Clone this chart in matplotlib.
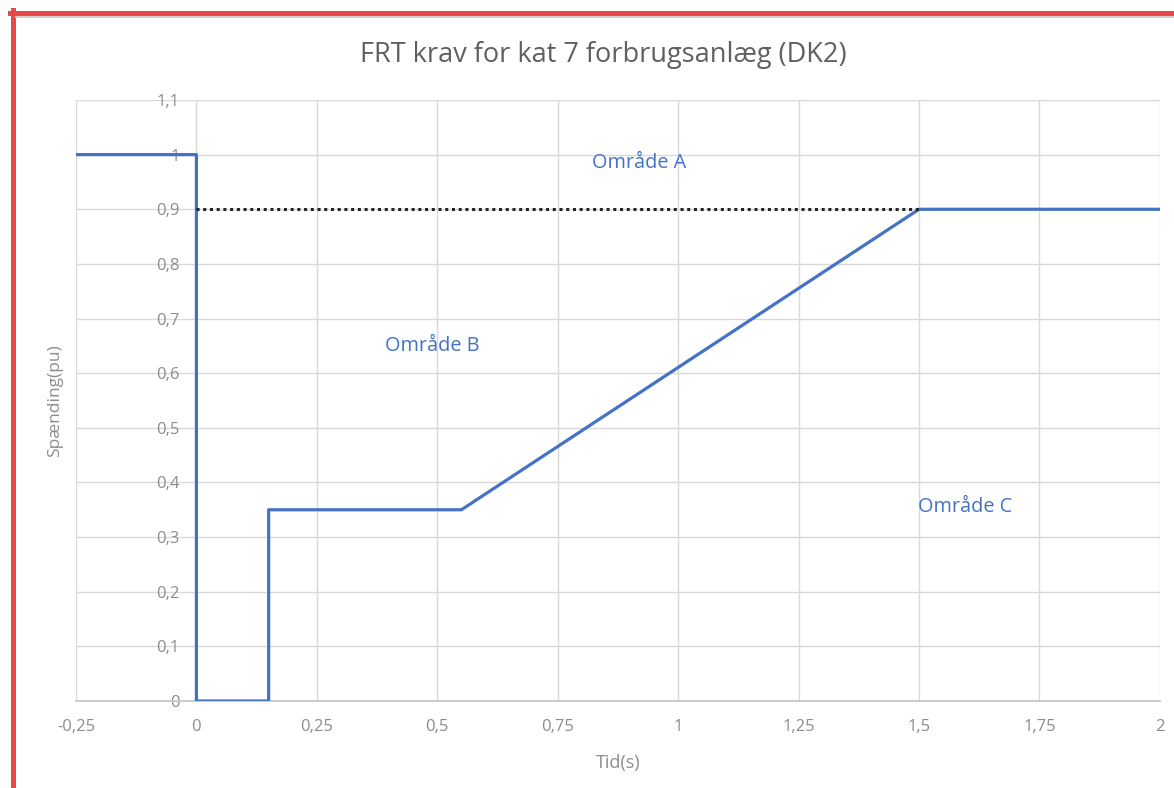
import numpy as np
import matplotlib
matplotlib.use('Agg')
import matplotlib.pyplot as plt
from matplotlib.ticker import FuncFormatter
from matplotlib.lines import Line2D

plt.rcParams['font.family'] = ['Open Sans', 'DejaVu Sans']

# FRT curve (tid [s], spænding [pu])
t_curve = [-0.25, 0, 0, 0.15, 0.15, 0.55, 1.5, 2.0]
u_curve = [1.0, 1.0, 0.0, 0.0, 0.35, 0.35, 0.9, 0.9]

# dotted 0.9 pu reference
t_ref = [0, 1.5]
u_ref = [0.9, 0.9]

# area labels
area_names = ['Område A', 'Område B', 'Område C']
area_t = [0.92, 0.49, 1.595]
area_u = [0.985, 0.65, 0.355]

x_ticks = np.arange(-0.25, 2.01, 0.25)
y_ticks = np.arange(0, 1.101, 0.1)

blue = '#4472C4'
grey = '#8c8c8c'

fig = plt.figure(figsize=(11.74, 7.88), dpi=100)
ax = fig.add_axes([0.0647, 0.1104, 0.9233, 0.7627])

ax.plot(t_curve, u_curve, color=blue, lw=2.3, zorder=3)
ax.plot(t_ref, u_ref, color='#222222', lw=2.2, ls=(0, (1, 1.2)), zorder=4)

for name, t, u in zip(area_names, area_t, area_u):
    ax.text(t, u, name, color=blue, fontsize=14.3, ha='center', va='center')

ax.set_xlim(-0.25, 2)
ax.set_ylim(0, 1.1)
ax.set_xticks(x_ticks)
ax.set_yticks(y_ticks)
fmt = FuncFormatter(lambda v, p: ('%g' % round(v, 2)).replace('.', ','))
ax.xaxis.set_major_formatter(fmt)
ax.yaxis.set_major_formatter(fmt)

ax.grid(True, color='#d9d9d9', lw=1)
ax.set_axisbelow(True)
for s in ['top', 'right', 'left']:
    ax.spines[s].set_visible(False)
ax.spines['bottom'].set_color('#c8c8c8')
ax.spines['bottom'].set_linewidth(1.3)

# y tick labels sit at t = 0 (axis crossing)
ax.spines['left'].set_position(('data', 0))
ax.tick_params(axis='y', length=0, pad=12, labelsize=12, labelcolor=grey)
ax.tick_params(axis='x', length=0, pad=13, labelsize=12, labelcolor=grey)

ax.set_xlabel('Tid(s)', color=grey, fontsize=13)
ax.xaxis.set_label_coords(0.5, -0.088)
ax.set_ylabel('Spænding(pu)', color=grey, fontsize=12.5)
ax.yaxis.set_label_coords(-0.012, 0.5)

fig.text(0.514, 0.930, 'FRT krav for kat 7 forbrugsanlæg (DK2)',
         color='#606060', fontsize=19.5, ha='center', va='center')

# red frame around the screenshot
fig.add_artist(Line2D([10 / 1174, 1], [1 - 12.5 / 788] * 2, transform=fig.transFigure,
                      color='#e84848', lw=3.6))
fig.add_artist(Line2D([12.5 / 1174] * 2, [0, 1 - 10 / 788], transform=fig.transFigure,
                      color='#e84848', lw=3.6))
fig.add_artist(Line2D([16 / 1174, 1], [1 - 17 / 788] * 2, transform=fig.transFigure,
                      color='#cfcfcf', lw=1.5))

fig.savefig('out.png', dpi=100)
